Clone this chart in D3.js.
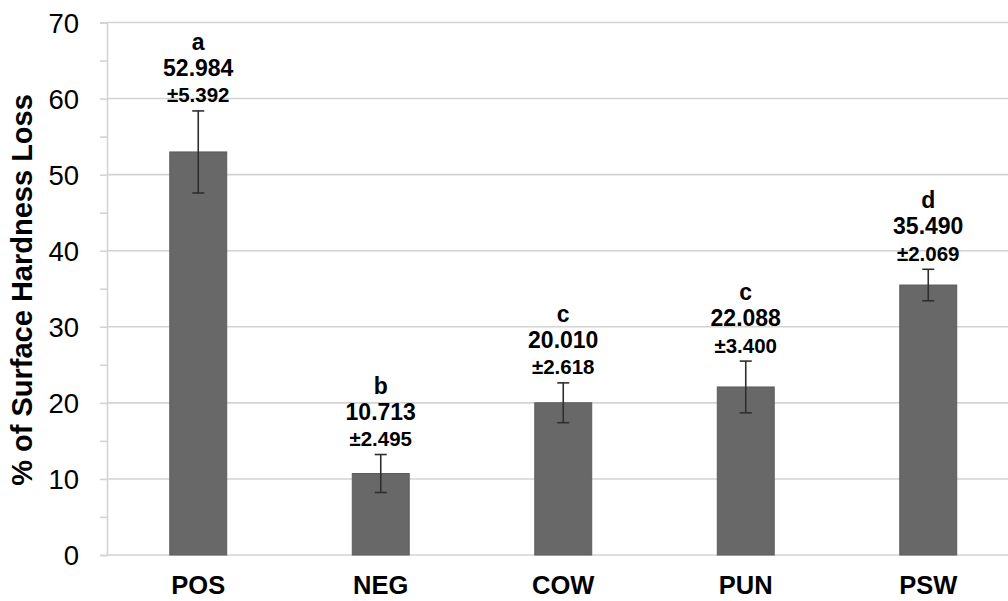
<!DOCTYPE html>
<html lang="en">
<head>
<meta charset="UTF-8">
<title>Surface Hardness Loss</title>
<script src="https://d3js.org/d3.v7.min.js"></script>
<style>
  body { margin: 0; background: #fff; }
  text { font-family: "Liberation Sans", Arial, sans-serif; fill: #000; }
</style>
</head>
<body>
<div id="chart"></div>
<script>
// data
const groups = ["POS", "NEG", "COW", "PUN", "PSW"];
const means = [52.984, 10.713, 20.010, 22.088, 35.490];
const sds = [5.392, 2.495, 2.618, 3.400, 2.069];
const letters = ["a", "b", "c", "c", "d"];
const yTicks = [0, 10, 20, 30, 40, 50, 60, 70];

const W = 1008, H = 601;
const plotLeft = 107, plotBottom = 555, plotTop = 22.5;

const svg = d3.select("#chart").append("svg")
  .attr("width", W).attr("height", H);

const x = d3.scaleBand()
  .domain(groups)
  .range([plotLeft, plotLeft + 912.5])
  .paddingInner(0.688)
  .paddingOuter(0.344);

const y = d3.scaleLinear()
  .domain([0, 70])
  .range([plotBottom, plotTop]);

// gridlines
svg.append("g")
  .selectAll("line")
  .data(yTicks)
  .join("line")
    .attr("x1", plotLeft).attr("x2", W)
    .attr("y1", d => y(d)).attr("y2", d => y(d))
    .attr("stroke", "#d3d3d3").attr("stroke-width", 1.6);

// y axis with minor ticks every 5
const yAxis = svg.append("g")
  .attr("transform", `translate(${plotLeft},0)`)
  .call(d3.axisLeft(y).tickValues(d3.range(0, 71, 5)).tickSize(7).tickFormat(""));
yAxis.select(".domain").attr("stroke", "#d3d3d3").attr("stroke-width", 1.6);
yAxis.selectAll(".tick line").attr("stroke", "#d3d3d3").attr("stroke-width", 1.6);

// tick labels
svg.append("g")
  .selectAll("text")
  .data(yTicks)
  .join("text")
    .attr("x", 79)
    .attr("y", d => y(d) + 10)
    .attr("text-anchor", "end")
    .style("font-size", "27.5px")
    .text(d => d);

// y title
svg.append("text")
  .attr("transform", `translate(32,${(93 + 487) / 2}) rotate(-90)`)
  .attr("text-anchor", "middle")
  .style("font-size", "29px")
  .style("font-weight", "bold")
  .text("% of Surface Hardness Loss");

// bars
svg.append("g")
  .selectAll("rect")
  .data(groups)
  .join("rect")
    .attr("x", d => x(d))
    .attr("y", (d, i) => y(means[i]))
    .attr("width", x.bandwidth())
    .attr("height", (d, i) => y(0) - y(means[i]))
    .attr("fill", "#686868")
    .attr("stroke", "#5c5c5c");

// error bars
const cx = d => x(d) + x.bandwidth() / 2;
const err = svg.append("g").attr("stroke", "#2e2e2e").attr("stroke-width", 1.6);
groups.forEach((g, i) => {
  const y0 = y(means[i] - sds[i]), y1 = y(means[i] + sds[i]);
  err.append("line").attr("x1", cx(g)).attr("x2", cx(g)).attr("y1", y0).attr("y2", y1);
  err.append("line").attr("x1", cx(g) - 6).attr("x2", cx(g) + 6).attr("y1", y0).attr("y2", y0);
  err.append("line").attr("x1", cx(g) - 6).attr("x2", cx(g) + 6).attr("y1", y1).attr("y2", y1);
});

// labels above each bar
const lab = svg.append("g").style("font-weight", "bold").attr("text-anchor", "middle");
groups.forEach((g, i) => {
  const t = y(means[i] + sds[i]);
  lab.append("text")
    .attr("x", cx(g)).attr("y", t - 61)
    .style("font-size", "23px")
    .text(letters[i]);
  lab.append("text")
    .attr("x", cx(g)).attr("y", t - 35)
    .style("font-size", "23px")
    .text(means[i].toFixed(3));
  lab.append("text")
    .attr("x", cx(g)).attr("y", t - 8.5)
    .style("font-size", "20.5px")
    .text("±" + sds[i].toFixed(3));
});

// x labels
svg.append("g")
  .selectAll("text")
  .data(groups)
  .join("text")
    .attr("x", d => cx(d))
    .attr("y", 594)
    .attr("text-anchor", "middle")
    .style("font-size", "25.5px")
    .style("font-weight", "bold")
    .text(d => d);
</script>
</body>
</html>
